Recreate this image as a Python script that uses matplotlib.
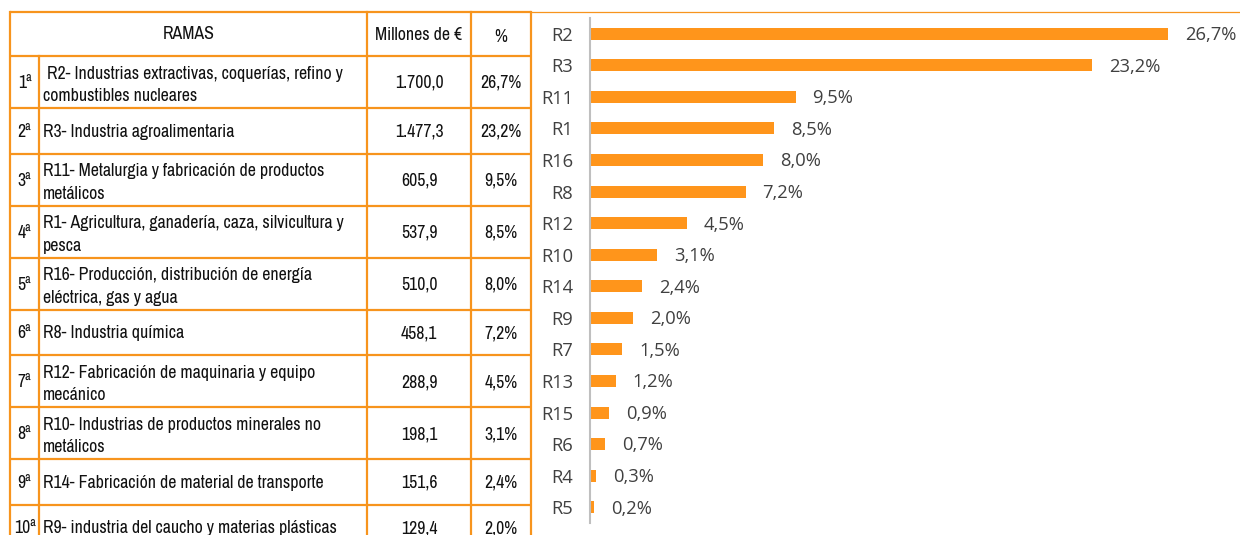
import matplotlib
matplotlib.use("Agg")
import matplotlib.pyplot as plt
from matplotlib import font_manager

# datos del gráfico de barras
ramas = ['R2', 'R3', 'R11', 'R1', 'R16', 'R8', 'R12', 'R10', 'R14', 'R9',
         'R7', 'R13', 'R15', 'R6', 'R4', 'R5']
porcentajes = [26.7, 23.2, 9.5, 8.5, 8.0, 7.2, 4.5, 3.1, 2.4, 2.0,
               1.5, 1.2, 0.9, 0.7, 0.3, 0.2]

# datos de la tabla
puestos = ['1ª', '2ª', '3ª', '4ª', '5ª', '6ª', '7ª', '8ª', '9ª', '10ª']
descripciones = [
    ' R2- Industrias extractivas, coquerías, refino y\ncombustibles nucleares',
    'R3- Industria agroalimentaria',
    'R11- Metalurgia y fabricación de productos\nmetálicos',
    'R1- Agricultura, ganadería, caza, silvicultura y\npesca',
    'R16- Producción, distribución de energía\neléctrica, gas y agua',
    'R8- Industria química',
    'R12- Fabricación de maquinaria y equipo\nmecánico',
    'R10- Industrias de productos minerales no\nmetálicos',
    'R14- Fabricación de material de transporte',
    'R9- industria del caucho y materias plásticas',
]
millones = [1700.0, 1477.3, 605.9, 537.9, 510.0, 458.1, 288.9, 198.1, 151.6, 129.4]
pct_tabla = [26.7, 23.2, 9.5, 8.5, 8.0, 7.2, 4.5, 3.1, 2.4, 2.0]
cabecera = ['RAMAS', 'Millones de €', '%']

NARANJA = '#F7941D'
BARRA = '#FF951B'
TEXTO = '#111111'
GRIS = '#404040'
W, H = 1240, 535


def fmt_es(v, dec=1):
    s = f"{v:,.{dec}f}"
    return s.replace(',', 'X').replace('.', ',').replace('X', '.')


# buscar una fuente estrecha (tipo Arial Narrow) si hay alguna instalada
narrow = None
for f in font_manager.fontManager.ttflist:
    if 'Narrow' in f.name and f.style == 'normal' and f.weight in (400, 'normal', 'regular'):
        narrow = f.name
        break
if narrow:
    fuente_tabla = [narrow, 'Liberation Sans', 'DejaVu Sans']
    fs_t = 12.8
else:
    fuente_tabla = ['Liberation Sans', 'DejaVu Sans']
    fs_t = 10.6

fig = plt.figure(figsize=(W / 100, H / 100), dpi=100)

# tabla en coordenadas de pixel
ax_t = fig.add_axes([0, 0, 1, 1])
ax_t.set_xlim(0, W)
ax_t.set_ylim(H, 0)
ax_t.axis('off')

cols = [10, 39, 367, 471, 531]
y_top, y_head = 12, 56
lw = 1.6
kw = dict(fontsize=fs_t, family=fuente_tabla, color=TEXTO)

# filas
y = y_head
bordes = [y_top, y_head]
for i, desc in enumerate(descripciones):
    dos_lineas = '\n' in desc
    h = 52 if dos_lineas else 45.5
    yc = y + h / 2
    ax_t.text((cols[0] + cols[1]) / 2, yc + 1, puestos[i], ha='center', va='center', **kw)
    ax_t.text(cols[1] + 4, yc + (3 if dos_lineas else 1), desc, ha='left', va='center',
              linespacing=1.5, **kw)
    ax_t.text((cols[2] + cols[3]) / 2, yc + 1, fmt_es(millones[i]), ha='center',
              va='center', **kw)
    ax_t.text((cols[3] + cols[4]) / 2, yc + 1, fmt_es(pct_tabla[i]) + '%', ha='center',
              va='center', **kw)
    y += h
    bordes.append(y)

for yb in bordes:
    ax_t.plot([cols[0], cols[4]], [yb, yb], color=NARANJA, lw=lw, solid_capstyle='butt')

y_fin = H + 20
ax_t.plot([cols[0], cols[0]], [y_top, y_fin], color=NARANJA, lw=lw)
ax_t.plot([cols[1], cols[1]], [y_head, y_fin], color=NARANJA, lw=lw)
for xc in cols[2:]:
    ax_t.plot([xc, xc], [y_top, y_fin], color=NARANJA, lw=lw)
# línea superior que continúa hacia la derecha
ax_t.plot([cols[4], W], [y_top, y_top], color=NARANJA, lw=0.9)

# cabecera
ax_t.text((cols[0] + cols[2]) / 2, 34, cabecera[0], ha='center', va='center', **kw)
ax_t.text((cols[2] + cols[3]) / 2, 35, cabecera[1], ha='center', va='center', **kw)
ax_t.text((cols[3] + cols[4]) / 2, 37, cabecera[2], ha='center', va='center', **kw)

# gráfico de barras
x0, x1 = 590, W
yb_top, yb_bot = 18, 523
ax = fig.add_axes([x0 / W, (H - yb_bot) / H, (x1 - x0) / W, (yb_bot - yb_top) / H])
ax.patch.set_alpha(0)
pos = list(range(len(ramas)))
ax.barh(pos, porcentajes, height=0.38, color=BARRA)
ax.set_ylim(len(ramas) - 0.5, -0.5)
ax.set_xlim(0, (x1 - x0) / 21.65)
ax.set_yticks(pos)
ax.set_yticklabels(ramas, fontsize=13.2, family=['Open Sans', 'DejaVu Sans'], color=GRIS)
ax.tick_params(axis='y', length=0, pad=12)
ax.set_xticks([])
for s in ['top', 'right', 'bottom']:
    ax.spines[s].set_visible(False)
ax.spines['left'].set_color('#bfbfbf')
ax.spines['left'].set_linewidth(1.5)

for p, v in zip(pos, porcentajes):
    ax.annotate(fmt_es(v) + '%', (v, p), xytext=(12, -1), textcoords='offset points',
                ha='left', va='center', fontsize=13.2, family=['Open Sans', 'DejaVu Sans'],
                color=GRIS)

fig.savefig('out.png', dpi=100)
